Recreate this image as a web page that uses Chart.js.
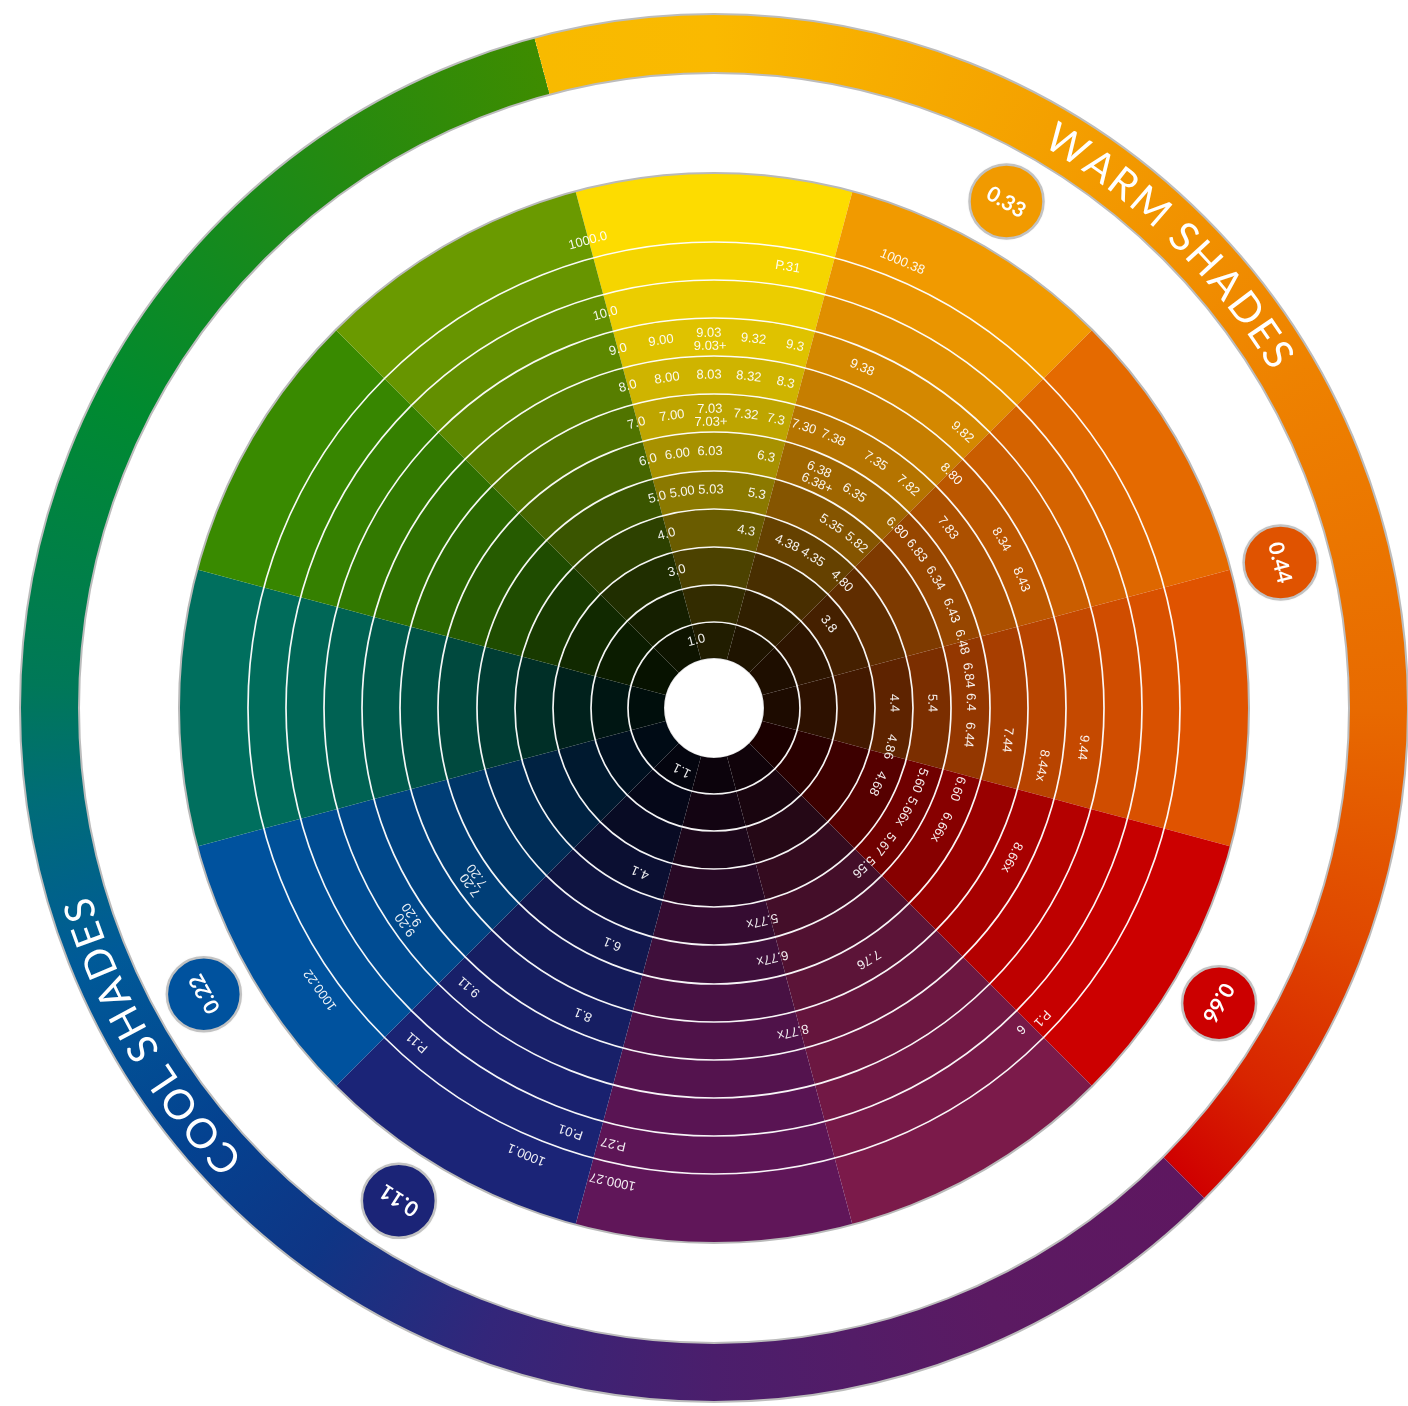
<!DOCTYPE html>
<html>
<head>
<meta charset="utf-8">
<title>Warm and cool shades</title>
<script src="https://cdn.jsdelivr.net/npm/chart.js@4.4.1/dist/chart.umd.min.js"></script>
<style>
  html, body { margin: 0; padding: 0; background: #fff; }
  #wrap { width: 1408px; height: 1406px; position: relative; }
</style>
</head>
<body>
<div id="wrap"><canvas id="wheel"></canvas></div>
<script>
// hue sectors, clockwise from the top (each one the same share of the wheel)
const hues = ['Yellow', 'Orange', 'Deep orange', 'Red orange', 'Red', 'Crimson',
  'Purple', 'Indigo', 'Blue', 'Teal', 'Green', 'Olive'];
const hueShare = [1, 1, 1, 1, 1, 1, 1, 1, 1, 1, 1, 1];
const hueColors = ['#FDDC00', '#F19A00', '#E56A00', '#E05300', '#CC0000', '#7B1A4A',
  '#601659', '#1B2477', '#00529E', '#006F5E', '#398A00', '#6A9A00'];

// shade rings, inner -> outer
const shadeRings = ['1', '2', '3', '4', '5', '6', '7', '8', '9', '10', 'P', '1000'];
const shadeLevel = [0.13, 0.2, 0.3, 0.42, 0.55, 0.66, 0.75, 0.82, 0.88, 0.93, 0.97, 1];

// outer band
const groups = ['WARM SHADES', 'COOL SHADES'];
const groupSpan = [150, 210];

// round badges
const badges = ['0.33', '0.44', '0.66', '0.11', '0.22'];
const badgeHue = [1, 3, 4, 7, 8];
const badgeAngle = [30, 75.6, 120.3, 212.6, 240.7];

// codes written on the wheel: text, ring (0 = inner), angle (deg from top), place across the ring
const codes = [
  ['1000.0', 11, -15.1, 0.26], ['P.31', 10, 9.5, 0.5], ['10.0', 9, -15.4, 0.5],
  ['9.0', 8, -15.0, 0.5], ['9.00', 8, -8.2, 0.5], ['9.03', 8, -0.8, 0.6], ['9.03+', 8, -0.6, 0.26],
  ['9.32', 8, 6.1, 0.5], ['9.3', 8, 12.6, 0.5],
  ['8.0', 7, -15.0, 0.5], ['8.00', 7, -8.1, 0.5], ['8.03', 7, -0.85, 0.5], ['8.32', 7, 6.0, 0.5], ['8.3', 7, 12.4, 0.5],
  ['7.0', 6, -15.2, 0.5], ['7.00', 6, -8.2, 0.5], ['7.03', 6, -0.8, 0.6], ['7.03+', 6, -0.6, 0.26],
  ['7.32', 6, 6.2, 0.5], ['7.3', 6, 12.1, 0.5], ['7.30', 6, 17.7, 0.5], ['7.38', 6, 23.8, 0.5],
  ['6.0', 5, -14.9, 0.5], ['6.00', 5, -8.2, 0.5], ['6.03', 5, -0.9, 0.5], ['6.3', 5, 11.7, 0.5],
  ['5.0', 4, -15.1, 0.5], ['5.00', 4, -8.4, 0.5], ['5.03', 4, -0.8, 0.5], ['5.3', 4, 11.3, 0.5],
  ['4.0', 3, -15.3, 0.5], ['4.3', 3, 10.3, 0.5], ['3.0', 2, -15.2, 0.5], ['1.0', 0, -14.6, 0.55],
  ['1000.38', 11, 22.9, 0.26], ['9.38', 8, 23.5, 0.5], ['9.82', 8, 42.0, 0.5], ['9.44', 8, 96.1, 0.5],
  ['8.80', 7, 45.4, 0.5], ['8.34', 7, 59.6, 0.5], ['8.43', 7, 67.3, 0.5], ['8.44x', 7, 99.9, 0.5], ['8.66x', 7, 116.6, 0.5],
  ['7.35', 6, 33.2, 0.5], ['7.82', 6, 41.1, 0.5], ['7.83', 6, 52.4, 0.5], ['7.44', 6, 96.2, 0.5], ['7.76', 6, 148.4, 0.5],
  ['6.38', 5, 23.8, 0.6], ['6.38+', 5, 24.6, 0.26], ['6.35', 5, 33.1, 0.5], ['6.80', 5, 45.5, 0.5],
  ['6.83', 5, 52.2, 0.5], ['6.34', 5, 59.6, 0.5], ['6.43', 5, 67.7, 0.5], ['6.48', 5, 75.1, 0.5],
  ['6.84', 5, 82.7, 0.5], ['6.4', 5, 88.7, 0.5], ['6.44', 5, 96.0, 0.5], ['6.60', 5, 108.3, 0.5], ['6.66x', 5, 117.6, 0.5],
  ['5.35', 4, 32.5, 0.5], ['5.82', 4, 40.7, 0.5], ['5.4', 4, 88.7, 0.5], ['5.60', 4, 109.3, 0.5],
  ['5.66x', 4, 118.2, 0.5], ['5.67', 4, 128.4, 0.5], ['5.56', 4, 136.7, 0.5],
  ['4.38', 3, 23.9, 0.5], ['4.35', 3, 33.2, 0.5], ['4.80', 3, 45.2, 0.5], ['4.4', 3, 88.4, 0.5],
  ['4.86', 3, 102.4, 0.5], ['4.68', 3, 114.7, 0.5], ['3.8', 2, 53.8, 0.5],
  ['P.1', 10, 133.4, 0.62], ['6', 10, 136.3, 0.42],
  ['5.77x', 4, 167.2, 0.5], ['6.77x', 5, 166.8, 0.5], ['8.77x', 7, 166.3, 0.5],
  ['1.1', 0, 207.3, 0.55], ['4.1', 3, 204.2, 0.5], ['6.1', 5, 203.3, 0.5], ['8.1', 7, 203.1, 0.5], ['9.11', 8, 221.3, 0.5],
  ['P.11', 10, 221.6, 0.5], ['P.01', 10, 198.7, 0.5], ['P.27', 10, 193.0, 0.5],
  ['1000.1', 11, 202.8, 0.26], ['1000.27', 11, 192.1, 0.26], ['1000.22', 11, 234.4, 0.26],
  ['9.20', 8, 234.9, 0.66], ['9.20', 8, 235.6, 0.36], ['7.20', 6, 234.0, 0.66], ['7.20', 6, 234.7, 0.36]
];

// layout (pixel weights of the doughnut rings, outer band first)
const bandWeight = 59;
const gapWeight = 100;
const ringWeight = [36, 37, 38, 38, 38, 39, 38, 38, 38, 38, 38, 69]; // inner -> outer
const titleArc = [[32.1, 57.9], [227.4, 252.3]];
const bandStops = [
  [0, '#F8BA00'], [0.0417, '#FAB900'], [0.125, '#F4A000'], [0.2083, '#EE8200'],
  [0.2917, '#E86A00'], [0.3472, '#E04800'], [0.3889, '#D82400'], [0.4164, '#D00000'],
  [0.4168, '#5E1760'], [0.4722, '#5B1A62'], [0.5417, '#4B1E6C'], [0.5972, '#33267A'],
  [0.6417, '#0F3585'], [0.6806, '#044290'], [0.7306, '#005A98'], [0.7694, '#006C78'],
  [0.7972, '#007858'], [0.8667, '#008A30'], [0.9472, '#258A10'], [1, '#3E8C00']
];

const FONT = '"Liberation Sans", Arial, sans-serif';
const TITLE_FONT = 'Lato, "Liberation Sans", sans-serif';
const rad = d => d * Math.PI / 180;

function shade(hex, f) {
  const n = parseInt(hex.slice(1), 16);
  const r = Math.round(((n >> 16) & 255) * f);
  const g = Math.round(((n >> 8) & 255) * f);
  const b = Math.round((n & 255) * f);
  return `rgb(${r},${g},${b})`;
}

function bandFill(context) {
  const chart = context.chart;
  const a = chart.chartArea;
  if (!a) return '#ccc';
  const cx = (a.left + a.right) / 2, cy = (a.top + a.bottom) / 2;
  const g = chart.ctx.createConicGradient(rad(-90 - 15), cx, cy);
  bandStops.forEach(([o, c]) => g.addColorStop(o, c));
  return g;
}

const datasets = [
  { label: 'band', data: groupSpan, weight: bandWeight, backgroundColor: bandFill },
  { label: 'gap', data: [360], weight: gapWeight, backgroundColor: 'rgba(0,0,0,0)' }
];
for (let k = shadeRings.length - 1; k >= 0; k--) {
  datasets.push({
    label: shadeRings[k],
    data: hueShare,
    weight: ringWeight[k],
    backgroundColor: hueColors.map(c => shade(c, shadeLevel[k]))
  });
}

const wheelDecor = {
  id: 'wheelDecor',
  afterDatasetsDraw(chart) {
    const ctx = chart.ctx;
    const band = chart.getDatasetMeta(0).data[0];
    const gap = chart.getDatasetMeta(1).data[0];
    const ring = k => chart.getDatasetMeta(2 + (shadeRings.length - 1 - k)).data[0];
    const cx = band.x, cy = band.y;

    const circle = (r, color, w) => {
      ctx.beginPath();
      ctx.arc(cx, cy, r, 0, Math.PI * 2);
      ctx.strokeStyle = color;
      ctx.lineWidth = w;
      ctx.stroke();
    };

    ctx.save();
    // white ring lines
    for (let k = 0; k < shadeRings.length - 1; k++) circle(ring(k).outerRadius, 'rgba(255,255,255,0.95)', 1.7);
    circle(ring(shadeRings.length - 1).outerRadius, '#b9b9b9', 2);
    circle(ring(0).innerRadius, 'rgba(0,0,0,0.12)', 2);
    circle(band.outerRadius, '#bcbcbc', 2);
    circle(band.innerRadius, '#bcbcbc', 2);

    // codes
    ctx.font = '13px ' + FONT;
    ctx.fillStyle = 'rgba(255,255,255,0.93)';
    ctx.textAlign = 'center';
    ctx.textBaseline = 'middle';
    codes.forEach(([text, k, ang, f]) => {
      const el = ring(k);
      const r = el.innerRadius + (el.outerRadius - el.innerRadius) * f;
      ctx.save();
      ctx.translate(cx, cy);
      ctx.rotate(rad(ang));
      ctx.fillText(text, 0, -r);
      ctx.restore();
    });

    // band titles along the arc
    const rMid = (band.innerRadius + band.outerRadius) / 2;
    ctx.font = '41px ' + TITLE_FONT;
    ctx.fillStyle = '#fff';
    groups.forEach((title, i) => {
      const chars = title.split('');
      const w = chars.map(c => ctx.measureText(c).width);
      const centers = [];
      let acc = 0;
      w.forEach(v => { centers.push(acc + v / 2); acc += v; });
      const d = centers[centers.length - 1] - centers[0];
      const [a0, a1] = titleArc[i];
      chars.forEach((c, j) => {
        const a = a0 + (centers[j] - centers[0]) / d * (a1 - a0);
        ctx.save();
        ctx.translate(cx, cy);
        ctx.rotate(rad(a));
        ctx.fillText(c, 0, -rMid);
        ctx.restore();
      });
    });

    // badges
    const rb = (gap.innerRadius + gap.outerRadius) / 2;
    badges.forEach((text, i) => {
      const a = rad(badgeAngle[i]);
      const x = cx + rb * Math.sin(a), y = cy - rb * Math.cos(a);
      ctx.save();
      ctx.shadowColor = 'rgba(0,0,0,0.18)';
      ctx.shadowBlur = 3;
      ctx.beginPath();
      ctx.arc(x, y, 37, 0, Math.PI * 2);
      ctx.fillStyle = hueColors[badgeHue[i]];
      ctx.fill();
      ctx.shadowColor = 'transparent';
      ctx.strokeStyle = '#c2c2c2';
      ctx.lineWidth = 2.5;
      ctx.stroke();
      ctx.translate(x, y);
      ctx.rotate(a);
      ctx.font = 'bold 21px ' + TITLE_FONT;
      ctx.fillStyle = '#fff';
      ctx.fillText(text, 0, 1);
      ctx.restore();
    });
    ctx.restore();
  }
};

new Chart(document.getElementById('wheel'), {
  type: 'doughnut',
  data: { labels: hues, datasets: datasets },
  options: {
    responsive: true,
    maintainAspectRatio: false,
    animation: false,
    events: [],
    rotation: -15,
    cutout: 50,
    borderWidth: 0,
    offset: 0,
    hoverOffset: 0,
    layout: { padding: { left: 20, top: 10, right: 0, bottom: 0 } },
    plugins: {
      legend: { display: false },
      tooltip: { enabled: false }
    }
  },
  plugins: [wheelDecor]
});
</script>
</body>
</html>
